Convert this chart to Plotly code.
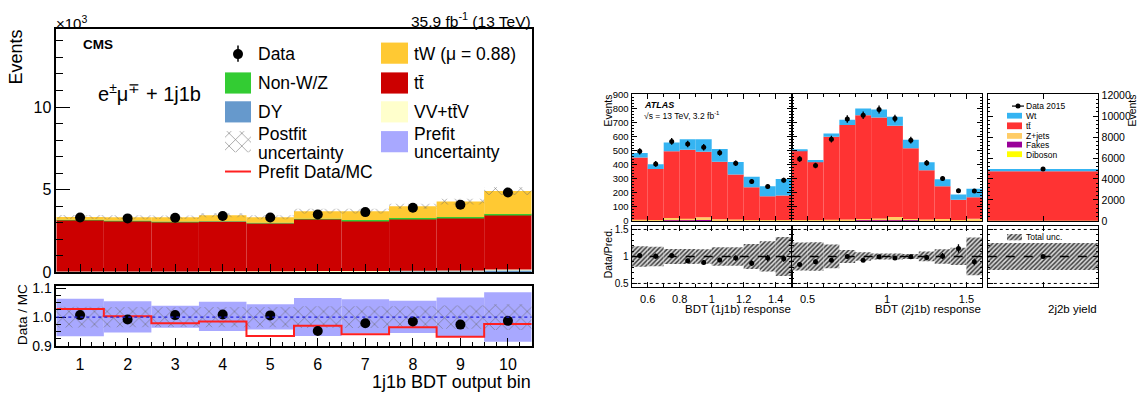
import numpy as np
import plotly.graph_objects as go

W, H = 1143, 398
FONT = "Liberation Sans, Arial, sans-serif"

# ---------------- CMS (events x 10^3) ----------------
cms_bins = [1, 2, 3, 4, 5, 6, 7, 8, 9, 10]
cms_data = [3.31, 3.26, 3.30, 3.41, 3.31, 3.50, 3.64, 3.90, 4.09, 4.83]
cms_dy = [0.03, 0.03, 0.03, 0.04, 0.04, 0.05, 0.05, 0.06, 0.07, 0.12]
cms_vv = [0.02, 0.02, 0.02, 0.02, 0.02, 0.03, 0.03, 0.03, 0.03, 0.04]
cms_ttbar = [3.11, 3.07, 3.01, 3.02, 2.91, 3.14, 3.06, 3.17, 3.21, 3.34]
cms_nonwz = [0.02, 0.02, 0.02, 0.02, 0.02, 0.02, 0.02, 0.02, 0.03, 0.03]
cms_tw = [0.17, 0.19, 0.25, 0.35, 0.34, 0.46, 0.54, 0.72, 0.94, 1.39]
cms_postfit_unc = [0.036, 0.035, 0.034, 0.035, 0.035, 0.038, 0.038, 0.038, 0.040, 0.045]
cms_prefit_hi = [1.064, 1.055, 1.039, 1.053, 1.045, 1.066, 1.062, 1.057, 1.068, 1.086]
cms_prefit_lo = [0.934, 0.947, 0.963, 0.952, 0.957, 0.935, 0.943, 0.945, 0.932, 0.915]
cms_prefit_ratio = [1.028, 1.003, 0.979, 0.985, 0.935, 0.970, 0.941, 0.965, 0.932, 0.976]
cms_data_ratio = [1.007, 0.992, 1.007, 1.009, 1.006, 0.952, 0.979, 0.985, 0.974, 0.987]

# ---------------- ATLAS ----------------
p1_centers = [0.55, 0.65, 0.75, 0.85, 0.95, 1.05, 1.15, 1.25, 1.35, 1.45]
p1_data = [497, 407, 568, 549, 526, 487, 412, 281, 245, 291]
p1_dib = [1, 1, 2, 2, 2, 1, 1, 1, 1, 1]
p1_fakes = [3, 2, 4, 4, 4, 3, 3, 2, 2, 2]
p1_zjets = [4, 3, 14, 10, 20, 8, 5, 4, 3, 4]
p1_tt = [445, 365, 477, 492, 468, 411, 323, 233, 170, 174]
p1_wt = [32, 34, 64, 76, 90, 90, 89, 76, 71, 119]
p1_ratio = [1.018, 1.006, 1.018, 0.92, 0.89, 0.935, 0.97, 0.876, 0.97, 0.96]
p1_unc = [0.19, 0.18, 0.14, 0.14, 0.135, 0.17, 0.17, 0.23, 0.28, 0.36]

p2_centers = [0.45, 0.55, 0.65, 0.75, 0.85, 0.95, 1.05, 1.15, 1.25, 1.35, 1.45, 1.55]
p2_data = [442, 396, 584, 728, 755, 796, 732, 577, 414, 302, 215, 213]
p2_dib = [1, 1, 1, 1, 2, 2, 2, 2, 1, 1, 1, 1]
p2_fakes = [2, 2, 2, 3, 3, 3, 3, 3, 2, 2, 1, 1]
p2_zjets = [3, 4, 5, 6, 8, 12, 22, 8, 6, 10, 5, 14]
p2_tt = [497, 416, 594, 676, 742, 722, 653, 506, 353, 234, 144, 153]
p2_wt = [7, 12, 23, 37, 48, 57, 64, 60, 57, 50, 37, 60]
p2_ratio = [0.853, 0.90, 0.93, 1.0, 0.93, 0.994, 0.97, 0.994, 0.98, 1.006, 1.147, 0.90]
p2_unc = [0.26, 0.265, 0.22, 0.12, 0.08, 0.055, 0.055, 0.045, 0.09, 0.135, 0.16, 0.35]

p3_centers = [0.5]
p3_data = [4960]
p3_dib = [6]
p3_fakes = [10]
p3_zjets = [25]
p3_tt = [4700]
p3_wt = [209]
p3_ratio = [1.0]
p3_unc = [0.25]

# colours
C_TW, C_TT, C_NWZ, C_DY, C_VV, C_PRE = "#FFC933", "#CC0000", "#33CC33", "#6699CC", "#FFFFCC", "#A8A8FF"
A_WT, A_TT, A_Z, A_FK, A_DB = "#35B4F2", "#FF3333", "#FFCC66", "#990099", "#FFFF00"

fig = go.Figure()


def bar(xa, ya, x, base, height, width, color, pattern=None):
    marker = dict(color=color, line=dict(width=0))
    if pattern is not None:
        marker["pattern"] = pattern
    fig.add_trace(go.Bar(x=list(x), y=list(height), base=list(base), width=width,
                         marker=marker, xaxis=xa, yaxis=ya, showlegend=False,
                         hoverinfo="skip"))


CMS_HATCH = dict(shape="x", fgcolor="#6a6a6a", bgcolor="rgba(0,0,0,0)", size=9,
                 solidity=0.12, fillmode="replace")
ATL_HATCH = dict(shape="/", fgcolor="#3a3a3a", bgcolor="#d8d8d8", size=3.2,
                 solidity=0.45, fillmode="replace")

# ---------- CMS main ----------
comps = [(cms_dy, C_DY), (cms_vv, C_VV), (cms_ttbar, C_TT), (cms_nonwz, C_NWZ), (cms_tw, C_TW)]
base = np.zeros(len(cms_bins))
for vals, col in comps:
    bar("x", "y", cms_bins, base, vals, 1.0, col)
    base = base + np.array(vals)
cms_total = base
u = np.array(cms_postfit_unc)
bar("x", "y", cms_bins, cms_total * (1 - u), 2 * cms_total * u, 1.0, "rgba(0,0,0,0)", CMS_HATCH)
fig.add_trace(go.Scatter(x=cms_bins, y=cms_data, mode="markers", xaxis="x", yaxis="y",
                         marker=dict(color="black", size=10), showlegend=False, hoverinfo="skip"))

# ---------- CMS ratio ----------
hi = np.array(cms_prefit_hi)
lo = np.array(cms_prefit_lo)
bar("x2", "y2", cms_bins, lo, hi - lo, 1.0, C_PRE)
bar("x2", "y2", cms_bins, 1 - u, 2 * u, 1.0, "rgba(0,0,0,0)", CMS_HATCH)
edges = np.append(np.array(cms_bins) - 0.5, cms_bins[-1] + 0.5)
fig.add_trace(go.Scatter(x=edges, y=cms_prefit_ratio + [cms_prefit_ratio[-1]], mode="lines",
                         line=dict(color="#FF2020", width=2, shape="hv"), xaxis="x2", yaxis="y2",
                         showlegend=False, hoverinfo="skip"))
fig.add_trace(go.Scatter(x=cms_bins, y=cms_data_ratio, mode="markers", xaxis="x2", yaxis="y2",
                         marker=dict(color="black", size=10), showlegend=False, hoverinfo="skip"))


# ---------- ATLAS ----------
def atlas_panel(xa, ya, xr, yr, centers, data, dib, fakes, zj, tt, wt, ratio, unc, width):
    b = np.zeros(len(centers))
    for vals, col in [(dib, A_DB), (fakes, A_FK), (zj, A_Z), (tt, A_TT), (wt, A_WT)]:
        bar(xa, ya, centers, b, vals, width, col)
        b = b + np.array(vals)
    d = np.array(data, dtype=float)
    fig.add_trace(go.Scatter(x=centers, y=data, mode="markers", xaxis=xa, yaxis=ya,
                             marker=dict(color="black", size=5),
                             error_y=dict(type="data", array=list(np.sqrt(d)), color="black",
                                          thickness=1.3, width=0),
                             showlegend=False, hoverinfo="skip"))
    un = np.array(unc)
    bar(xr, yr, centers, 1 - un, 2 * un, width, "#d8d8d8", ATL_HATCH)
    fig.add_trace(go.Scatter(x=centers, y=ratio, mode="markers", xaxis=xr, yaxis=yr,
                             marker=dict(color="black", size=5),
                             error_y=dict(type="data", array=list(np.sqrt(d) / b), color="black",
                                          thickness=1.3, width=0),
                             showlegend=False, hoverinfo="skip"))


atlas_panel("x3", "y3", "x6", "y6", p1_centers, p1_data, p1_dib, p1_fakes, p1_zjets, p1_tt,
            p1_wt, p1_ratio, p1_unc, 0.1)
atlas_panel("x4", "y4", "x7", "y7", p2_centers, p2_data, p2_dib, p2_fakes, p2_zjets, p2_tt,
            p2_wt, p2_ratio, p2_unc, 0.1)
atlas_panel("x5", "y5", "x8", "y8", p3_centers, p3_data, p3_dib, p3_fakes, p3_zjets, p3_tt,
            p3_wt, p3_ratio, p3_unc, 1.0)

# ---------- legend swatches on a pixel overlay axis ----------
def swatch(x0, x1, y0, y1, color, pattern=None):
    bar("x9", "y9", [(x0 + x1) / 2], [y0], [y1 - y0], x1 - x0, color, pattern)


swatch(225, 251, 69, 91, C_NWZ)
swatch(225, 251, 99, 121, C_DY)
swatch(225, 251, 130, 152, "rgba(0,0,0,0)", CMS_HATCH)
swatch(381, 408, 38, 60, C_TW)
swatch(381, 408, 69, 91, C_TT)
swatch(381, 408, 99, 121, C_VV)
swatch(381, 408, 130, 152, C_PRE)
# atlas legend
swatch(1007, 1022, 111, 117, A_WT)
swatch(1007, 1022, 121, 128, A_TT)
swatch(1007, 1022, 132, 138, A_Z)
swatch(1007, 1022, 141, 147, A_FK)
swatch(1007, 1022, 151, 157, A_DB)
swatch(1007, 1022, 237, 243.5, "#d8d8d8", ATL_HATCH)
fig.add_trace(go.Scatter(x=[238], y=[50], mode="markers", xaxis="x9", yaxis="y9",
                         marker=dict(color="black", size=10), showlegend=False, hoverinfo="skip"))
fig.add_trace(go.Scatter(x=[1018], y=[104], mode="markers", xaxis="x9", yaxis="y9",
                         marker=dict(color="black", size=5), showlegend=False, hoverinfo="skip"))

shapes = [
    dict(type="line", xref="x9", yref="y9", x0=238, x1=238, y0=41, y1=58,
         line=dict(color="black", width=1.5)),
    dict(type="line", xref="x9", yref="y9", x0=225, x1=251, y0=172, y1=172,
         line=dict(color="#FF2020", width=2)),
    dict(type="line", xref="x9", yref="y9", x0=1012, x1=1024, y0=104, y1=104,
         line=dict(color="black", width=1.2)),
    # CMS ratio reference line
    dict(type="line", xref="x2 domain", yref="y2", x0=0, x1=1, y0=1, y1=1, layer="above",
         line=dict(color="#2020DD", width=1.3, dash="dot")),
]
for yr in ["y6", "y7", "y8"]:
    xr = {"y6": "x6", "y7": "x7", "y8": "x8"}[yr]
    shapes.append(dict(type="line", xref=xr + " domain", yref=yr, x0=0, x1=1, y0=1, y1=1,
                       layer="above", line=dict(color="black", width=1.3, dash="dash")))
    for v in (0.5, 1.5):
        shapes.append(dict(type="line", xref=xr + " domain", yref=yr, x0=0, x1=1, y0=v, y1=v,
                           layer="above", line=dict(color="black", width=1, dash="dot")))


def ann(text, x, y, size, xanchor="left", yanchor="middle", angle=0, color="black"):
    return dict(text=text, x=x, y=y, xref="x9", yref="y9", xanchor=xanchor, yanchor=yanchor,
                align="left" if xanchor == "left" else ("right" if xanchor == "right" else "center"),
                showarrow=False, textangle=angle, borderpad=0,
                font=dict(size=size, color=color, family=FONT))


annotations = [
    ann("×10<sup>3</sup>", 55, 17, 15),
    ann("35.9 fb<sup>-1</sup> (13 TeV)", 532, 15, 15.5, xanchor="right"),
    ann("<b>CMS</b>", 82, 40, 13.5),
    ann("e<sup>±</sup>μ<sup>∓</sup> + 1j1b", 97, 90, 20),
    ann("Data", 257, 50, 17.5),
    ann("Non-W/Z", 257, 80, 17.5),
    ann("DY", 257, 110, 17.5),
    ann("Postfit", 257, 133, 17.5),
    ann("uncertainty", 257, 153, 17.5),
    ann("Prefit Data/MC", 257, 172, 17.5),
    ann("tW (μ = 0.88)", 413, 50, 17.5),
    ann("tt̄", 413, 80, 17.5),
    ann("VV+tt̄V", 413, 110, 17.5),
    ann("Prefit", 413, 133, 17.5),
    ann("uncertainty", 413, 152, 17.5),
    ann("Events", 16, 24, 18, xanchor="center", yanchor="top", angle=-90),
    ann("Data / MC", 23, 321, 13.5, xanchor="center", angle=-90),
    ann("1j1b BDT output bin", 532, 391, 18, xanchor="right"),
    # ATLAS
    ann("Events", 608, 91, 10.5, xanchor="center", yanchor="top", angle=-90),
    ann("Data/Pred.", 608, 257, 10.5, xanchor="center", angle=-90),
    ann("<b><i>ATLAS</i></b>", 643, 103, 9),
    ann("√s = 13 TeV, 3.2 fb<sup>-1</sup>", 643, 114, 8.5),
    ann("BDT (1j1b) response", 792, 315, 11.5, xanchor="right"),
    ann("BDT (2j1b) response", 982, 315, 11.5, xanchor="right"),
    ann("2j2b yield", 1098, 315, 11.5, xanchor="right"),
    ann("Events", 1132, 91, 10.5, xanchor="center", yanchor="top", angle=-90),
    ann("Data 2015", 1025, 104, 8.5),
    ann("Wt", 1025, 114, 8.5),
    ann("tt̄", 1025, 124.5, 8.5),
    ann("Z+jets", 1025, 135, 8.5),
    ann("Fakes", 1025, 144.5, 8.5),
    ann("Diboson", 1025, 154.5, 8.5),
    ann("Total unc.", 1025, 240, 8.5),
]


def dx(a, b):
    return [a / W, b / W]


def dy(top, bottom):
    return [1 - bottom / H, 1 - top / H]


def ax(**kw):
    base = dict(showgrid=False, zeroline=False, showline=True, linecolor="black",
                ticks="inside", tickcolor="black", fixedrange=True,
                tickfont=dict(family=FONT, color="black"))
    base.update(kw)
    return base


CMS_X = [56.3, 531.7]
layout = dict(
    width=W, height=H, margin=dict(l=0, r=0, t=0, b=0),
    paper_bgcolor="white", plot_bgcolor="rgba(0,0,0,0)",
    barmode="overlay", showlegend=False, font=dict(family=FONT, color="black"),
    xaxis=ax(domain=dx(*CMS_X), anchor="y", range=[0.5, 10.5], tick0=1, dtick=1, ticklen=8,
             showticklabels=False, linewidth=1.6, mirror=True,
             minor=dict(tick0=0.5, dtick=0.25, ticklen=4, ticks="inside", tickcolor="black")),
    yaxis=ax(domain=dy(24.3, 276.7), anchor="x", range=[0, 14.7], tick0=0, dtick=5, ticklen=14,
             tickfont=dict(family=FONT, size=16, color="black"), linewidth=1.6, mirror=True,
             minor=dict(dtick=1, ticklen=7, ticks="inside", tickcolor="black")),
    xaxis2=ax(domain=dx(*CMS_X), anchor="y2", range=[0.5, 10.5], tick0=1, dtick=1, ticklen=8,
              tickfont=dict(family=FONT, size=16, color="black"), linewidth=1.6, mirror=True,
              ticklabelstandoff=3,
              minor=dict(tick0=0.5, dtick=0.25, ticklen=4, ticks="inside", tickcolor="black")),
    yaxis2=ax(domain=dy(291, 353.3), anchor="x2", range=[0.9, 1.1077], tick0=0.9, dtick=0.1,
              tickformat=".1f", ticklen=10, tickfont=dict(family=FONT, size=14, color="black"),
              linewidth=1.6, mirror=True,
              minor=dict(dtick=0.025, ticklen=5, ticks="inside", tickcolor="black")),
    # ATLAS main
    xaxis3=ax(domain=dx(631.7, 791.7), anchor="y3", range=[0.5, 1.5], tick0=0.6, dtick=0.2,
              ticklen=5, showticklabels=False, mirror="ticks", linewidth=1.3,
              minor=dict(tick0=0.5, dtick=0.1, ticklen=3, ticks="inside", tickcolor="black")),
    yaxis3=ax(domain=dy(91.7, 223.3), anchor="x3", range=[0, 905], tick0=0, dtick=100,
              ticklen=5, tickfont=dict(family=FONT, size=9.5, color="black"), mirror="ticks",
              linewidth=1.3, minor=dict(dtick=20, ticklen=2.5, ticks="inside", tickcolor="black")),
    xaxis4=ax(domain=dx(791.7, 982.3), anchor="y4", range=[0.4, 1.6], tick0=0.5, dtick=0.5,
              ticklen=5, showticklabels=False, mirror="ticks", linewidth=1.3,
              minor=dict(tick0=0.4, dtick=0.1, ticklen=3, ticks="inside", tickcolor="black")),
    yaxis4=ax(domain=dy(91.7, 223.3), anchor="x4", range=[0, 905], tick0=0, dtick=100,
              ticklen=5, showticklabels=False, mirror="ticks", linewidth=1.3,
              minor=dict(dtick=20, ticklen=2.5, ticks="inside", tickcolor="black")),
    xaxis5=ax(domain=dx(987.8, 1098.3), anchor="y5", range=[0, 1], tickvals=[0.5], ticklen=5,
              showticklabels=False, mirror="ticks", linewidth=1.3),
    yaxis5=ax(domain=dy(91.7, 223.3), anchor="x5", side="right", range=[0, 12090], tick0=0,
              dtick=2000, tickformat="d", ticklen=5,
              tickfont=dict(family=FONT, size=10.5, color="black"), mirror="ticks", linewidth=1.3,
              minor=dict(dtick=400, ticklen=2.5, ticks="inside", tickcolor="black")),
    # ATLAS ratio
    xaxis6=ax(domain=dx(631.7, 791.7), anchor="y6", range=[0.5, 1.5], tick0=0.6, dtick=0.2,
              ticklen=5, tickfont=dict(family=FONT, size=11, color="black"), mirror="ticks",
              linewidth=1.3, ticklabelstandoff=2,
              minor=dict(tick0=0.5, dtick=0.1, ticklen=3, ticks="inside", tickcolor="black")),
    yaxis6=ax(domain=dy(228.3, 291.7), anchor="x6", range=[0.44, 1.57], tick0=0.5, dtick=0.5,
              ticklen=5, tickfont=dict(family=FONT, size=10, color="black"), mirror="ticks",
              linewidth=1.3, minor=dict(dtick=0.1, ticklen=2.5, ticks="inside", tickcolor="black")),
    xaxis7=ax(domain=dx(791.7, 982.3), anchor="y7", range=[0.4, 1.6], tick0=0.5, dtick=0.5,
              ticklen=5, tickfont=dict(family=FONT, size=11, color="black"), mirror="ticks",
              linewidth=1.3, ticklabelstandoff=2,
              minor=dict(tick0=0.4, dtick=0.1, ticklen=3, ticks="inside", tickcolor="black")),
    yaxis7=ax(domain=dy(228.3, 291.7), anchor="x7", range=[0.44, 1.57], tick0=0.5, dtick=0.5,
              ticklen=5, showticklabels=False, mirror="ticks", linewidth=1.3,
              minor=dict(dtick=0.1, ticklen=2.5, ticks="inside", tickcolor="black")),
    xaxis8=ax(domain=dx(987.8, 1098.3), anchor="y8", range=[0, 1], tickvals=[0.5], ticklen=5,
              showticklabels=False, mirror="ticks", linewidth=1.3),
    yaxis8=ax(domain=dy(228.3, 291.7), anchor="x8", range=[0.44, 1.57], tick0=0.5, dtick=0.5,
              ticklen=5, showticklabels=False, mirror="ticks", linewidth=1.3,
              minor=dict(dtick=0.1, ticklen=2.5, ticks="inside", tickcolor="black")),
    # pixel overlay
    xaxis9=dict(domain=[0, 1], anchor="y9", range=[0, W], visible=False, fixedrange=True),
    yaxis9=dict(domain=[0, 1], anchor="x9", range=[H, 0], visible=False, fixedrange=True),
    shapes=shapes,
    annotations=annotations,
)
fig.update_layout(**layout)
fig.write_html("out.html")
